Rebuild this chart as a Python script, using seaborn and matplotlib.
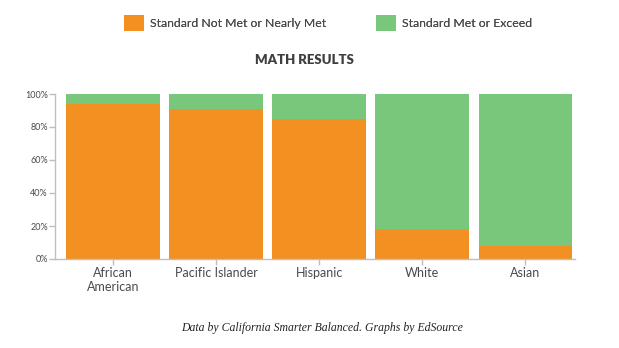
import matplotlib
matplotlib.use("Agg")
import matplotlib.pyplot as plt
import seaborn as sns
import pandas as pd
from matplotlib.patches import Patch
from matplotlib.ticker import PercentFormatter

groups = ["African\nAmerican", "Pacific Islander", "Hispanic", "White", "Asian"]
not_met = [94, 91, 85, 18, 8]
met = [100 - v for v in not_met]
series_names = ["Standard Not Met or Nearly Met", "Standard Met or Exceed"]
y_ticks = [0, 20, 40, 60, 80, 100]

ORANGE = "#F39022"
GREEN = "#78C77A"
GRAY = "#bfbfbf"
TEXT = "#4a4a4a"

sns.set_theme(style="white")
plt.rcParams["font.family"] = ["Lato", "DejaVu Sans"]

df = pd.DataFrame({"group": groups, "not_met": not_met, "met": met})
df["total"] = df["not_met"] + df["met"]

fig = plt.figure(figsize=(6.19, 3.48), dpi=100)
ax = fig.add_axes([55 / 619, 1 - 259 / 348, (575 - 55) / 619, (259 - 94) / 348])

# stacked bars: full-height "met" layer underneath, "not met" share on top of it
sns.barplot(data=df, x="group", y="total", color=GREEN, width=0.91,
            saturation=1, ax=ax, linewidth=0)
sns.barplot(data=df, x="group", y="not_met", color=ORANGE, width=0.91,
            saturation=1, ax=ax, linewidth=0)

ax.set_xlim(-0.56, 4.48)
ax.set_ylim(0, 100)
ax.set_yticks(y_ticks)
ax.yaxis.set_major_formatter(PercentFormatter(decimals=0))
ax.set_xlabel("")
ax.set_ylabel("")

for side in ["top", "right"]:
    ax.spines[side].set_visible(False)
for side in ["left", "bottom"]:
    ax.spines[side].set_color(GRAY)
    ax.spines[side].set_linewidth(1)

ax.tick_params(axis="y", length=4, width=1, color=GRAY, labelsize=6.5,
               labelcolor=TEXT, pad=1, left=True)
ax.tick_params(axis="x", length=4, width=1, color=GRAY, labelsize=9,
               labelcolor=TEXT, pad=2, bottom=True)
for lbl in ax.get_xticklabels():
    lbl.set_linespacing(1.15)

# one legend entry per series, each anchored at its own spot along the top
legend_x = [124 / 619, 376 / 619]
for name, colour, x0 in zip(series_names, [ORANGE, GREEN], legend_x):
    leg = fig.legend([Patch(facecolor=colour, edgecolor="none")], [name],
                     loc="center left", bbox_to_anchor=(x0, 1 - 23 / 348),
                     frameon=False, fontsize=8.8, handlelength=1.65,
                     handleheight=1.6, handletextpad=0.5, labelcolor=TEXT,
                     borderaxespad=0, borderpad=0)
    fig.add_artist(leg)

fig.text(304 / 619, 1 - 60 / 348, "MATH RESULTS", ha="center", va="center",
         fontsize=9.5, fontweight="heavy", color="#3f3f3f")
fig.text(322 / 619, 1 - 328 / 348,
         "Data by California Smarter Balanced. Graphs by EdSource",
         ha="center", va="center", fontsize=8.5, style="italic",
         family=["Liberation Serif", "DejaVu Serif"], color="#222222")

fig.savefig("out.png", dpi=100)
